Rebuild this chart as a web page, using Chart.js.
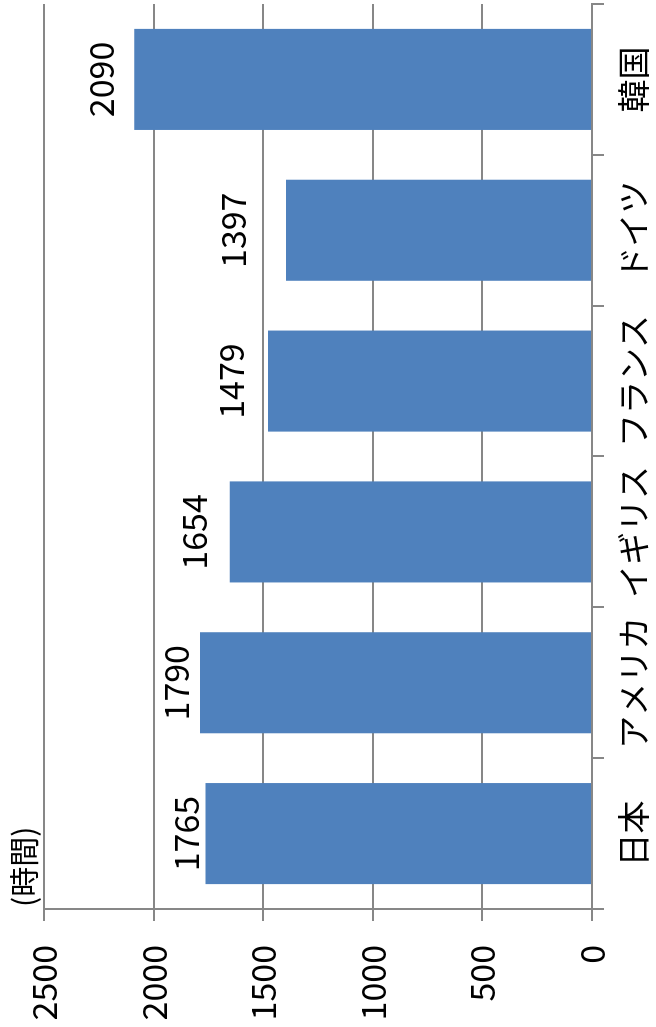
<!DOCTYPE html>
<html>
<head>
<meta charset="utf-8">
<script src="https://cdn.jsdelivr.net/npm/chart.js@4/dist/chart.umd.min.js"></script>
<style>
  html, body { margin: 0; padding: 0; background: #ffffff; }
  body { width: 656px; height: 1027px; overflow: hidden; position: relative; }
  /* The chart is laid out as a normal column chart and turned a quarter turn
     counter-clockwise, so the value axis runs along the bottom edge. */
  #wrap {
    position: absolute; left: 0; top: 0;
    width: 1027px; height: 656px;
    transform-origin: 0 0;
    transform: rotate(-90deg) translateX(-1027px);
  }
  canvas { display: block; }
</style>
</head>
<body>
<div id="wrap"><canvas id="c" width="1027" height="656"></canvas></div>
<script>
// Annual working hours per worker
const categories = ['日本', 'アメリカ', 'イギリス', 'フランス', 'ドイツ', '韓国'];
const hours = [1765, 1790, 1654, 1479, 1397, 2090];
const valueTicks = [0, 500, 1000, 1500, 2000, 2500];
const unitLabel = '(時間)';

// Distance (px) between each bar end and its value label
const labelGaps = [6, 11, 23, 24, 40, 20];

const FONT = '"Noto Sans CJK JP", "Noto Sans", sans-serif';
const GRID = '#878787';
const BAR = '#4F81BD';

const valueLabels = {
  id: 'valueLabels',
  afterDatasetsDraw(chart) {
    const ctx = chart.ctx;
    const meta = chart.getDatasetMeta(0);
    ctx.save();
    ctx.font = '34px ' + FONT;
    ctx.fillStyle = '#000000';
    ctx.textAlign = 'center';
    ctx.textBaseline = 'alphabetic';
    meta.data.forEach((bar, i) => {
      ctx.fillText(String(hours[i]), bar.x, bar.y - labelGaps[i]);
    });
    ctx.restore();
  },
  afterDraw(chart) {
    const ctx = chart.ctx;
    ctx.save();
    ctx.font = '30px ' + FONT;
    ctx.fillStyle = '#000000';
    ctx.textAlign = 'left';
    ctx.textBaseline = 'middle';
    ctx.fillText(unitLabel, chart.chartArea.left + 2, 24);
    ctx.restore();
  }
};

new Chart(document.getElementById('c'), {
  type: 'bar',
  data: {
    labels: categories,
    datasets: [{
      data: hours,
      backgroundColor: BAR,
      borderWidth: 0,
      categoryPercentage: 1,
      barPercentage: 0.67
    }]
  },
  options: {
    responsive: false,
    animation: false,
    devicePixelRatio: 1,
    layout: { padding: { top: 42, right: 4, left: 0, bottom: 0 } },
    plugins: { legend: { display: false }, tooltip: { enabled: false } },
    scales: {
      x: {
        offset: true,
        grid: {
          offset: true,
          drawOnChartArea: false,
          drawTicks: true,
          tickLength: 12,
          color: GRID,
          lineWidth: 2
        },
        border: { color: GRID, width: 2 },
        ticks: {
          color: '#000000',
          font: { family: FONT, size: 33 },
          padding: 10,
          maxRotation: 0,
          autoSkip: false
        },
        afterFit(scale) { scale.height = 64; }
      },
      y: {
        min: 0,
        max: 2500,
        afterBuildTicks(scale) { scale.ticks = valueTicks.map(v => ({ value: v })); },
        grid: {
          color: GRID,
          lineWidth: 2,
          drawTicks: true,
          tickLength: 12
        },
        border: { color: GRID, width: 2 },
        ticks: {
          color: '#000000',
          font: { family: FONT, size: 34 },
          padding: 24,
          callback: (v) => String(v)
        },
        afterFit(scale) { scale.width = 118; }
      }
    }
  },
  plugins: [valueLabels]
});
</script>
</body>
</html>
